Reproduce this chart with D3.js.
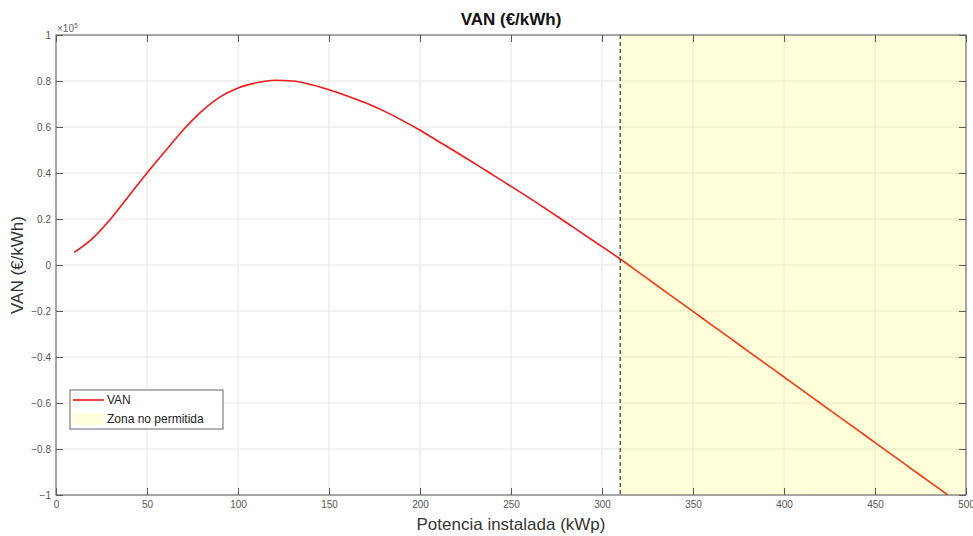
<!DOCTYPE html>
<html>
<head>
<meta charset="utf-8">
<script src="https://cdn.jsdelivr.net/npm/d3@7"></script>
<style>
  body { margin: 0; background: #fff; }
  svg { display: block; font-family: "Liberation Sans", Arial, sans-serif; }
</style>
</head>
<body>
<svg id="chart" width="973" height="536"></svg>
<script>
// Installed power (kWp) and net present value (×10^5)
const potencia = [10, 20, 30, 40, 50, 60, 70, 80, 90, 100,
  110, 120, 130, 140, 150, 160, 170, 180, 190, 200,
  210, 220, 230, 240, 250, 260, 270, 280, 290, 300,
  310, 320, 330, 340, 350, 360, 370, 380, 390, 400,
  410, 420, 430, 440, 450, 460, 470, 480, 490];
const van = [0.055, 0.115, 0.20, 0.30, 0.40, 0.495, 0.588, 0.668, 0.73, 0.77,
  0.792, 0.803, 0.80, 0.785, 0.762, 0.735, 0.705, 0.67, 0.63, 0.586,
  0.538, 0.49, 0.442, 0.392, 0.342, 0.292, 0.24, 0.187, 0.133, 0.08,
  0.026, -0.031, -0.088, -0.145, -0.202, -0.259, -0.316, -0.373, -0.430, -0.487,
  -0.544, -0.601, -0.658, -0.715, -0.772, -0.829, -0.886, -0.943, -1.0];
const limitePotencia = 310;
const xTicks = [0, 50, 100, 150, 200, 250, 300, 350, 400, 450, 500];
const yTicks = [-1, -0.8, -0.6, -0.4, -0.2, 0, 0.2, 0.4, 0.6, 0.8, 1];

const svg = d3.select("#chart");
const m = { left: 56, top: 35, right: 966, bottom: 495 };
const x = d3.scaleLinear().domain([0, 500]).range([m.left, m.right]);
const y = d3.scaleLinear().domain([-1, 1]).range([m.bottom, m.top]);
const axisColor = "#5a5a5a";
const W = m.right - m.left, H = m.bottom - m.top;

svg.append("defs").append("clipPath").attr("id", "plot")
  .append("rect").attr("x", m.left).attr("y", m.top).attr("width", W).attr("height", H);

// grid
const grid = svg.append("g").attr("stroke", "#e4e4e4").attr("stroke-width", 1);
grid.selectAll("line.gx").data(xTicks).join("line")
  .attr("x1", d => x(d)).attr("x2", d => x(d)).attr("y1", m.top).attr("y2", m.bottom);
grid.selectAll("line.gy").data(yTicks).join("line")
  .attr("y1", d => y(d)).attr("y2", d => y(d)).attr("x1", m.left).attr("x2", m.right);

// VAN curve
const line = d3.line().curve(d3.curveMonotoneX)
  .x((d, i) => x(potencia[i])).y(d => y(d));
svg.append("path").datum(van)
  .attr("clip-path", "url(#plot)")
  .attr("d", line).attr("fill", "none")
  .attr("stroke", "#f01818").attr("stroke-width", 1.6);

// forbidden zone (translucent, drawn over the curve)
svg.append("rect")
  .attr("x", x(limitePotencia)).attr("y", m.top)
  .attr("width", x(500) - x(limitePotencia)).attr("height", H)
  .attr("fill", "#ffff00").attr("fill-opacity", 0.15);

// limit line
svg.append("line")
  .attr("x1", x(limitePotencia)).attr("x2", x(limitePotencia))
  .attr("y1", m.top).attr("y2", m.bottom)
  .attr("stroke", "#333").attr("stroke-width", 1.2).attr("stroke-dasharray", "4,3");

// axes box
svg.append("rect").attr("x", m.left).attr("y", m.top).attr("width", W).attr("height", H)
  .attr("fill", "none").attr("stroke", axisColor).attr("stroke-width", 1);

const tl = 7;
const fmt = d => d3.format("")(+d.toFixed(1));
const xb = svg.append("g").attr("transform", `translate(0,${m.bottom})`)
  .call(d3.axisBottom(x).tickValues(xTicks).tickSize(-tl).tickPadding(6).tickFormat(fmt));
const xt = svg.append("g").attr("transform", `translate(0,${m.top})`)
  .call(d3.axisTop(x).tickValues(xTicks).tickSize(-tl).tickFormat(""));
const yl = svg.append("g").attr("transform", `translate(${m.left},0)`)
  .call(d3.axisLeft(y).tickValues(yTicks).tickSize(-tl).tickPadding(5).tickFormat(fmt));
const yr = svg.append("g").attr("transform", `translate(${m.right},0)`)
  .call(d3.axisRight(y).tickValues(yTicks).tickSize(-tl).tickFormat(""));
[xb, xt, yl, yr].forEach(g => {
  g.select(".domain").remove();
  g.selectAll(".tick line").attr("stroke", axisColor);
  g.selectAll(".tick text").attr("fill", "#555").attr("font-size", 10)
    .attr("font-family", "'Liberation Sans', Arial, sans-serif");
});

// exponent label
const ex = svg.append("text").attr("x", m.left + 1).attr("y", m.top - 3)
  .attr("fill", "#666").attr("font-size", 10);
ex.append("tspan").text("×10");
ex.append("tspan").attr("dy", -4).attr("font-size", 7).text("5");

// title and labels
svg.append("text").attr("x", (m.left + m.right) / 2).attr("y", 25)
  .attr("text-anchor", "middle").attr("font-weight", "bold").attr("font-size", 17)
  .attr("fill", "#111").text("VAN (€/kWh)");
svg.append("text").attr("x", (m.left + m.right) / 2).attr("y", 530)
  .attr("text-anchor", "middle").attr("font-size", 17).attr("fill", "#333")
  .text("Potencia instalada (kWp)");
svg.append("text")
  .attr("transform", `translate(23,${(m.top + m.bottom) / 2}) rotate(-90)`)
  .attr("text-anchor", "middle").attr("font-size", 17).attr("fill", "#333")
  .text("VAN (€/kWh)");

// legend
const lg = svg.append("g").attr("transform", "translate(70,390)");
lg.append("rect").attr("width", 153).attr("height", 39)
  .attr("fill", "#fff").attr("stroke", "#666").attr("stroke-width", 1);
lg.append("line").attr("x1", 3).attr("x2", 34).attr("y1", 10).attr("y2", 10)
  .attr("stroke", "#f01818").attr("stroke-width", 1.6);
lg.append("rect").attr("x", 3).attr("y", 23).attr("width", 31).attr("height", 12)
  .attr("fill", "#ffff00").attr("fill-opacity", 0.15);
lg.append("text").attr("x", 37).attr("y", 14).attr("font-size", 12).attr("fill", "#222").text("VAN");
lg.append("text").attr("x", 37).attr("y", 33).attr("font-size", 12).attr("fill", "#222").text("Zona no permitida");
</script>
</body>
</html>
